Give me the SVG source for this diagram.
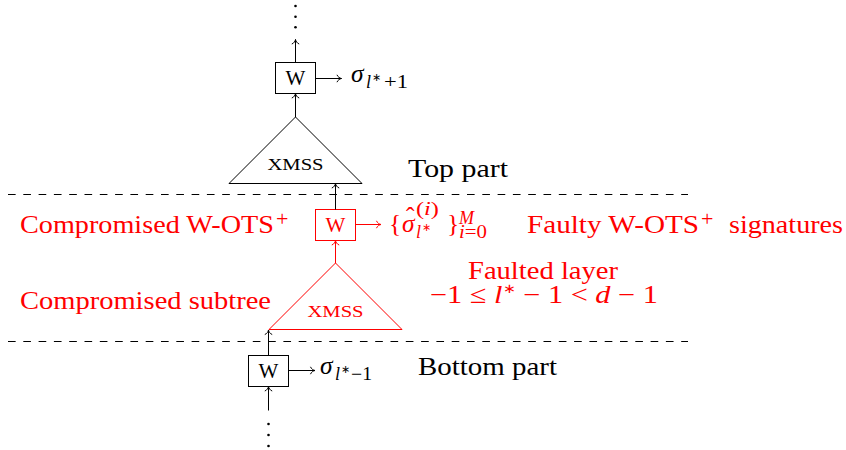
<svg xmlns="http://www.w3.org/2000/svg" width="846" height="450" viewBox="0 0 846 450">
<style>
text{font-family:'Liberation Serif',serif}
.t{font-size:25.5px;fill:#000}
.r{fill:#ff0000}
.i{font-style:italic}
.s{font-size:18px}
.ss{font-size:11px}
.box{fill:#fff;stroke:#000;stroke-width:1}
.rbox{fill:#fff;stroke:#ff0000;stroke-width:1}
.tri{fill:none;stroke:#000;stroke-width:1}
.rtri{fill:none;stroke:#ff0000;stroke-width:1}
.c{fill:none;stroke:#000;stroke-width:1}
.rc{fill:none;stroke:#ff0000;stroke-width:1}
.dash{fill:none;stroke:#000;stroke-width:1;stroke-dasharray:7.65 7.65}
.sc{font-size:16px}
.w{font-size:21px}
.plus{font-size:22px}
</style>
<defs>
<marker id="ah" markerUnits="userSpaceOnUse" markerWidth="12" markerHeight="12" viewBox="-6 -6 12 12" refX="0" refY="0" orient="auto">
<path d="M-4.5,-3.7 C-3.8,-1.5 -1.5,-0.3 0,0 C-1.5,0.3 -3.8,1.5 -4.5,3.7" fill="none" stroke="#000" stroke-width="1"/>
</marker>
<marker id="rah" markerUnits="userSpaceOnUse" markerWidth="12" markerHeight="12" viewBox="-6 -6 12 12" refX="0" refY="0" orient="auto">
<path d="M-4.5,-3.7 C-3.8,-1.5 -1.5,-0.3 0,0 C-1.5,0.3 -3.8,1.5 -4.5,3.7" fill="none" stroke="#ff0000" stroke-width="1"/>
</marker>
</defs>

<g id="separators">
<line class="dash" x1="8" y1="194.5" x2="688" y2="194.5"/>
<line class="dash" x1="8" y1="341.5" x2="688" y2="341.5"/>
</g>

<g id="dots-top" fill="#000">
<circle cx="295.5" cy="6" r="1.3"/>
<circle cx="295.5" cy="16.7" r="1.3"/>
<circle cx="295.5" cy="27.3" r="1.3"/>
</g>

<g id="w-top">
<rect class="box" x="275.5" y="62.5" width="40" height="31"/>
<text class="w" x="295.5" y="85" text-anchor="middle">W</text>
</g>

<g id="xmss-top">
<path class="tri" d="M295.5,117 L362,183.5 L229,183.5 Z"/>
<text class="sc" x="295.5" y="170" text-anchor="middle" textLength="56" lengthAdjust="spacingAndGlyphs">XMSS</text>
</g>

<g id="w-faulty">
<rect class="rbox" x="315.5" y="209.5" width="40" height="31"/>
<text class="w r" x="335.5" y="232" text-anchor="middle">W</text>
</g>

<g id="xmss-compromised">
<path class="rtri" d="M335.5,263 L402,329.5 L269,329.5 Z"/>
<text class="sc r" x="335.5" y="317" text-anchor="middle" textLength="56" lengthAdjust="spacingAndGlyphs">XMSS</text>
</g>

<g id="w-bottom">
<rect class="box" x="248.5" y="355.5" width="40" height="31"/>
<text class="w" x="268.5" y="377.5" text-anchor="middle">W</text>
</g>

<g id="dots-bottom" fill="#000">
<circle cx="268.5" cy="424" r="1.3"/>
<circle cx="268.5" cy="435" r="1.3"/>
<circle cx="268.5" cy="446" r="1.3"/>
</g>

<g id="connectors">
<line class="c" x1="295.5" y1="62.5" x2="295.5" y2="39.5" marker-end="url(#ah)"/>
<line class="c" x1="315.5" y1="78.5" x2="341.5" y2="78.5" marker-end="url(#ah)"/>
<line class="c" x1="295.5" y1="117" x2="295.5" y2="93.5" marker-end="url(#ah)"/>
<line class="c" x1="335.5" y1="209.5" x2="335.5" y2="183.5" marker-end="url(#ah)"/>
<line class="rc" x1="355.5" y1="224.5" x2="381" y2="224.5" marker-end="url(#rah)"/>
<line class="rc" x1="335.5" y1="263" x2="335.5" y2="240.5" marker-end="url(#rah)"/>
<line class="c" x1="268.5" y1="355.5" x2="268.5" y2="330" marker-end="url(#ah)"/>
<line class="c" x1="288.5" y1="370.5" x2="315" y2="370.5" marker-end="url(#ah)"/>
<line class="c" x1="268.5" y1="410.5" x2="268.5" y2="386.5" marker-end="url(#ah)"/>
</g>

<g id="label-sigma-top">
<text class="t i" x="351" y="82">σ</text>
<text class="t i s" x="366" y="88">l</text>
<text class="t ss" x="372" y="81">∗</text>
<text class="t s" x="384" y="88" textLength="24" lengthAdjust="spacingAndGlyphs">+1</text>
</g>

<g id="label-sigma-bottom">
<text class="t i" x="320" y="374">σ</text>
<text class="t i s" x="335" y="380">l</text>
<text class="t ss" x="341" y="373">∗</text>
<text class="t s" x="351" y="380" textLength="21" lengthAdjust="spacingAndGlyphs">−1</text>
</g>

<g id="label-sigma-faulty">
<text class="t r" x="389" y="232">{</text>
<text class="t r i" x="402" y="232">σ</text>
<text class="t r" x="406" y="225" font-size="20px">ˆ</text>
<text class="t r s" x="416" y="215" textLength="23" lengthAdjust="spacingAndGlyphs">(<tspan class="i">i</tspan>)</text>
<text class="t r i s" x="416" y="238">l</text>
<text class="t r ss" x="422" y="231">∗</text>
<text class="t r" x="447" y="232">}</text>
<text class="t r i s" x="459" y="224">M</text>
<text class="t r s" x="459" y="238" textLength="28" lengthAdjust="spacingAndGlyphs"><tspan class="i">i</tspan>=0</text>
</g>

<g id="labels">
<text class="t" x="408" y="177" textLength="100" lengthAdjust="spacingAndGlyphs">Top part</text>
<text class="t" x="418" y="375" textLength="139" lengthAdjust="spacingAndGlyphs">Bottom part</text>
<text class="t r" x="20" y="233" textLength="254" lengthAdjust="spacingAndGlyphs">Compromised W-OTS</text>
<text class="t r plus" x="276" y="226">+</text>
<text class="t r" x="20" y="309" textLength="251" lengthAdjust="spacingAndGlyphs">Compromised subtree</text>
<text class="t r" x="527" y="233" textLength="172" lengthAdjust="spacingAndGlyphs">Faulty W-OTS</text>
<text class="t r plus" x="701" y="226">+</text>
<text class="t r" x="729" y="233" textLength="114" lengthAdjust="spacingAndGlyphs">signatures</text>
<text class="t r" x="468" y="279" textLength="150" lengthAdjust="spacingAndGlyphs">Faulted layer</text>
<text class="t r" x="430" y="303" textLength="228" lengthAdjust="spacingAndGlyphs">−1 ≤ <tspan class="i">l</tspan><tspan font-size="13px" dy="-10">∗</tspan><tspan dy="10"> − 1 &lt; </tspan><tspan class="i">d</tspan> − 1</text>
</g>
</svg>
